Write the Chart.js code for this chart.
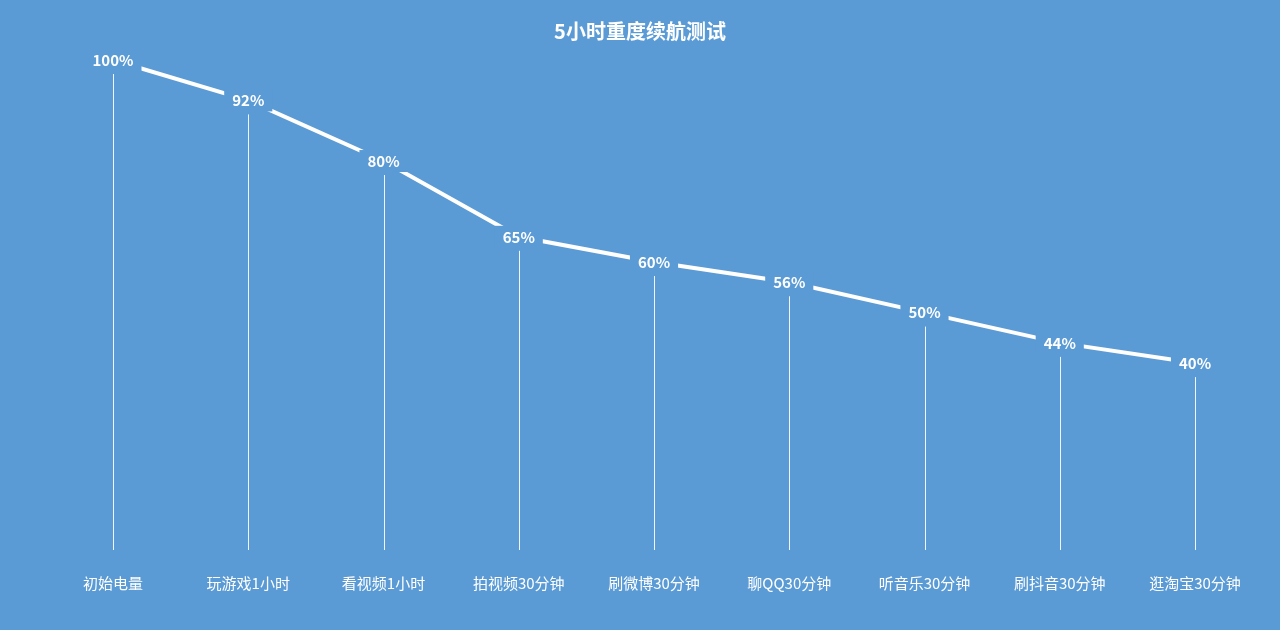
<!DOCTYPE html><html><head><meta charset="utf-8">
<script src="https://cdn.jsdelivr.net/npm/chart.js@4"></script>
<style>html,body{margin:0;background:#5b9bd5;}#w{width:1280px;height:630px}</style></head><body>
<div id="w"><canvas id="c"></canvas></div>
<script>
const categories=["初始电量","玩游戏1小时","看视频1小时","拍视频30分钟","刷微博30分钟","聊QQ30分钟","听音乐30分钟","刷抖音30分钟","逛淘宝30分钟"];
const values=[100,92,80,65,60,56,50,44,40];
const chartTitle="5小时重度续航测试";
const BG="#5b9bd5";
const FONT="'Noto Sans CJK SC','Noto Sans',sans-serif";
const deco={id:'deco',
 beforeDatasetsDraw(ch){const c=ch.ctx,x=ch.scales.x,y=ch.scales.y;c.save();c.strokeStyle='rgba(255,255,255,0.9)';c.lineWidth=1;
  values.forEach((v,i)=>{const px=Math.round(x.getPixelForValue(i))+0.5;c.beginPath();c.moveTo(px,y.getPixelForValue(v)+14);c.lineTo(px,ch.chartArea.bottom);c.stroke();});c.restore();},
 afterDatasetsDraw(ch){const c=ch.ctx,x=ch.scales.x,y=ch.scales.y;c.save();c.font="bold 15px "+FONT;c.textAlign='center';c.textBaseline='middle';
  values.forEach((v,i)=>{const px=x.getPixelForValue(i),py=y.getPixelForValue(v);const t=v+'%';const w=c.measureText(t).width+16;c.fillStyle=BG;c.fillRect(px-w/2,py-11,w,22);c.fillStyle='#fff';c.fillText(t,px,py);});
  c.font="bold 20px "+FONT;c.fillText(chartTitle,640,31);c.restore();}};
new Chart(document.getElementById('c'),{type:'line',
 data:{labels:categories,datasets:[{data:values,borderColor:'#fff',borderWidth:4,pointRadius:0,tension:0}]},
 options:{responsive:true,maintainAspectRatio:false,animation:false,
  layout:{padding:{top:60,bottom:22,left:113,right:85}},
  plugins:{legend:{display:false},tooltip:{enabled:false}},
  scales:{y:{display:false,min:3,max:100},
   x:{offset:false,grid:{display:false},border:{display:false},ticks:{color:'#fff',padding:16,maxRotation:0,autoSkip:false,font:{family:FONT,size:15}}}}},
 plugins:[deco]});
</script></body></html>
